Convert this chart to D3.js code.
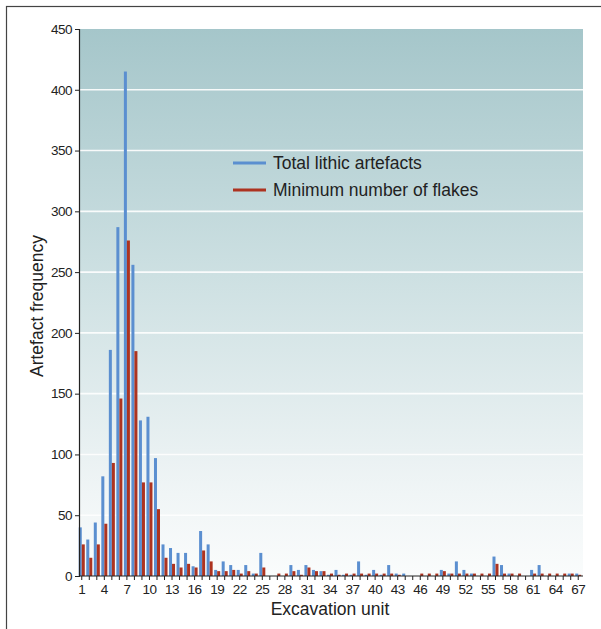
<!DOCTYPE html>
<html>
<head>
<meta charset="utf-8">
<script src="https://cdn.jsdelivr.net/npm/d3@7"></script>
<style>
  html, body { margin: 0; padding: 0; background: #ffffff; }
  svg { display: block; font-family: "Liberation Sans", Arial, sans-serif; }
</style>
</head>
<body>
<svg id="chart" width="601" height="629"></svg>
<script>
// ---- data ----
const units = [1,2,3,4,5,6,7,8,9,10,11,12,13,14,15,16,17,18,19,20,21,22,23,24,25,26,27,28,29,30,31,32,33,34,35,36,37,38,39,40,41,42,43,44,45,46,47,48,49,50,51,52,53,54,55,56,57,58,59,60,61,62,63,64,65,66,67];
const totalLithic = [40,30,44,82,186,287,415,256,128,131,97,26,23,19,19,8,37,26,5,12,9,5,9,2,19,0,0,0,9,5,9,5,4,1,5,1,1,12,1,5,1,9,2,2,0,0,0,0,5,2,12,5,2,0,0,16,9,2,0,0,5,9,0,0,0,2,2];
const minFlakes  = [26,15,26,43,93,146,276,185,77,77,55,15,10,7,10,7,21,12,4,4,5,2,4,2,7,0,2,2,4,1,7,4,4,2,1,2,2,2,2,2,2,2,1,0,0,2,2,2,4,2,2,2,2,2,2,10,2,2,2,0,2,2,2,2,2,2,1];
const yTicks = [0,50,100,150,200,250,300,350,400,450];
const xTickLabels = [1,4,7,10,13,16,19,22,25,28,31,34,37,40,43,46,49,52,55,58,61,64,67];
const seriesNames = ["Total lithic artefacts", "Minimum number of flakes"];
const seriesColors = ["#5b8fd0", "#ad3320"];

// ---- layout ----
const svg = d3.select("#chart");
const plot = { left: 79, right: 583, top: 29, bottom: 576 };

// frame
svg.append("rect").attr("x", 6.5).attr("y", 6.5).attr("width", 700).attr("height", 700)
  .attr("fill", "none").attr("stroke", "#444").attr("stroke-width", 1.2);

const x = d3.scaleBand().domain(units).range([plot.left - 1, plot.right - 1]).paddingInner(0.2).paddingOuter(0.1);
const xs = d3.scaleBand().domain([0, 1]).range([0, x.bandwidth()]).padding(0);
const y = d3.scaleLinear().domain([0, 450]).range([plot.bottom, plot.top]);

// background gradient
const defs = svg.append("defs");
const grad = defs.append("linearGradient").attr("id", "bg").attr("x1", 0).attr("y1", 0).attr("x2", 0).attr("y2", 1);
grad.append("stop").attr("offset", "0%").attr("stop-color", "#a5c6ca");
grad.append("stop").attr("offset", "45%").attr("stop-color", "#cde0e2");
grad.append("stop").attr("offset", "85%").attr("stop-color", "#f0f5f6");
grad.append("stop").attr("offset", "100%").attr("stop-color", "#fafcfc");
svg.append("rect").attr("x", plot.left).attr("y", plot.top)
  .attr("width", plot.right - plot.left).attr("height", plot.bottom - plot.top)
  .attr("fill", "url(#bg)");

// gridlines
svg.append("g").selectAll("line").data(yTicks.filter(t => t > 0 && t < 450)).join("line")
  .attr("x1", plot.left).attr("x2", plot.right)
  .attr("y1", d => y(d)).attr("y2", d => y(d))
  .attr("stroke", "#ffffff").attr("stroke-width", 1.6).attr("opacity", 0.9);

// bars
const seriesData = [totalLithic, minFlakes];
seriesData.forEach((vals, si) => {
  svg.append("g").selectAll("rect").data(units).join("rect")
    .attr("x", (u) => x(u) + xs(si))
    .attr("width", xs.bandwidth())
    .attr("y", (u, i) => y(vals[i]))
    .attr("height", (u, i) => y(0) - y(vals[i]))
    .attr("fill", seriesColors[si]);
});

// y axis
const yAxis = d3.axisLeft(y).tickValues(yTicks).tickSize(4).tickPadding(3);
const gy = svg.append("g").attr("transform", `translate(${plot.left},0)`).call(yAxis);
gy.select(".domain").attr("stroke", "#222").attr("stroke-width", 1.2);
gy.selectAll(".tick line").attr("stroke", "#222");
gy.selectAll("text").attr("font-size", 13.5).attr("fill", "#222")
  .attr("font-family", "'Liberation Sans', Arial, sans-serif").attr("letter-spacing", -0.5);

// x axis
const xAxis = d3.axisBottom(x).tickSize(4).tickPadding(4)
  .tickFormat(d => xTickLabels.includes(d) ? d : "");
const gx = svg.append("g").attr("transform", `translate(0,${plot.bottom})`).call(xAxis);
gx.select(".domain").attr("stroke", "#222").attr("stroke-width", 1.2)
  .attr("d", `M${plot.left},0H${plot.right}`);
gx.selectAll(".tick line").attr("stroke", "#222");
gx.selectAll("text").attr("font-size", 13.5).attr("fill", "#222")
  .attr("font-family", "'Liberation Sans', Arial, sans-serif").attr("letter-spacing", -0.5);

// axis titles
svg.append("text").attr("x", 330).attr("y", 615)
  .attr("text-anchor", "middle").attr("font-size", 17.5).attr("fill", "#222")
  .text("Excavation unit");
svg.append("text").attr("transform", `translate(43,306) rotate(-90)`)
  .attr("text-anchor", "middle").attr("font-size", 17.5).attr("fill", "#222")
  .text("Artefact frequency");

// legend
const legend = svg.append("g");
seriesNames.forEach((name, i) => {
  const ly = 163 + i * 27;
  legend.append("line").attr("x1", 233).attr("x2", 266).attr("y1", ly).attr("y2", ly)
    .attr("stroke", seriesColors[i]).attr("stroke-width", 3);
  legend.append("text").attr("x", 273).attr("y", ly + 6)
    .attr("font-size", 17.5).attr("fill", "#222").text(name);
});
</script>
</body>
</html>
